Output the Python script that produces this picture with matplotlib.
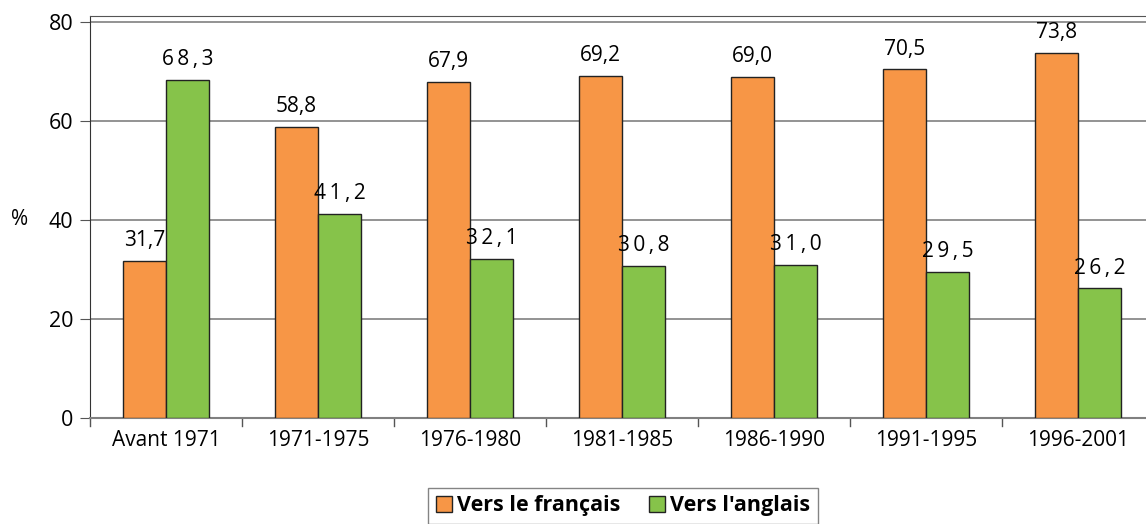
import matplotlib.pyplot as plt
import numpy as np

categories = ["Avant 1971", "1971-1975", "1976-1980", "1981-1985", "1986-1990", "1991-1995", "1996-2001"]
francais = [31.7, 58.8, 67.9, 69.2, 69.0, 70.5, 73.8]
anglais = [68.3, 41.2, 32.1, 30.8, 31.0, 29.5, 26.2]
yticks = [0, 20, 40, 60, 80]

plt.rcParams['font.family'] = ['Open Sans', 'DejaVu Sans']

orange = "#F79646"
green = "#86C34A"

fig = plt.figure(figsize=(11.46, 5.24), dpi=100)
# right edge of the plot area runs past the image, like the reference
ax = fig.add_axes([90 / 1146, 1 - 418 / 524, 1064 / 1146, 402 / 524])

x = np.arange(len(categories))
w = 0.283
b1 = ax.bar(x - w / 2, francais, w, color=orange, edgecolor="#222222", linewidth=1, zorder=3,
            label="Vers le français")
b2 = ax.bar(x + w / 2, anglais, w, color=green, edgecolor="#222222", linewidth=1, zorder=3,
            label="Vers l'anglais")

for rect, v in zip(b1, francais):
    ax.text(rect.get_x() + rect.get_width() / 2, v + 2.0, f"{v:.1f}".replace(".", ","),
            ha="center", va="bottom", fontsize=15)
for rect, v in zip(b2, anglais):
    s = f"{v:.1f}".replace(".", ",")
    ax.text(rect.get_x() + rect.get_width() / 2, v + 2.0, "\u2009".join(s),
            ha="center", va="bottom", fontsize=15)

ax.set_xlim(-0.5, len(categories) - 0.5)
ax.set_ylim(0, 81.3)
ax.set_yticks(yticks)
ax.tick_params(axis="y", labelsize=15.5, length=7, pad=5, color="#555555")
ax.set_xticks(x)
ax.set_xticklabels(categories, fontsize=15)
ax.tick_params(axis="x", length=0, pad=9)
for b in np.arange(len(categories) + 1) - 0.5:
    ax.plot([b, b], [0, -1.6], color="#555555", lw=1, clip_on=False)

ax.yaxis.grid(True, color="#808080", lw=1.2, zorder=0)
ax.spines["left"].set_color("#333333")
ax.spines["bottom"].set_color("#808080")
ax.spines["bottom"].set_linewidth(1.5)
ax.spines["top"].set_color("#555555")
ax.spines["right"].set_visible(False)

fig.text(20 / 1146, 1 - 220 / 524, "%", fontsize=15, ha="center", va="center")

leg = fig.legend(loc="lower center", bbox_to_anchor=(623 / 1146, -0.02), ncol=2, frameon=True,
                 fancybox=False, edgecolor="#666666", prop={"weight": "bold", "size": 15.5},
                 handlelength=0.75, handleheight=0.75, handletextpad=0.25, columnspacing=1.3,
                 borderpad=0.35)

fig.savefig("out.png", dpi=100)
